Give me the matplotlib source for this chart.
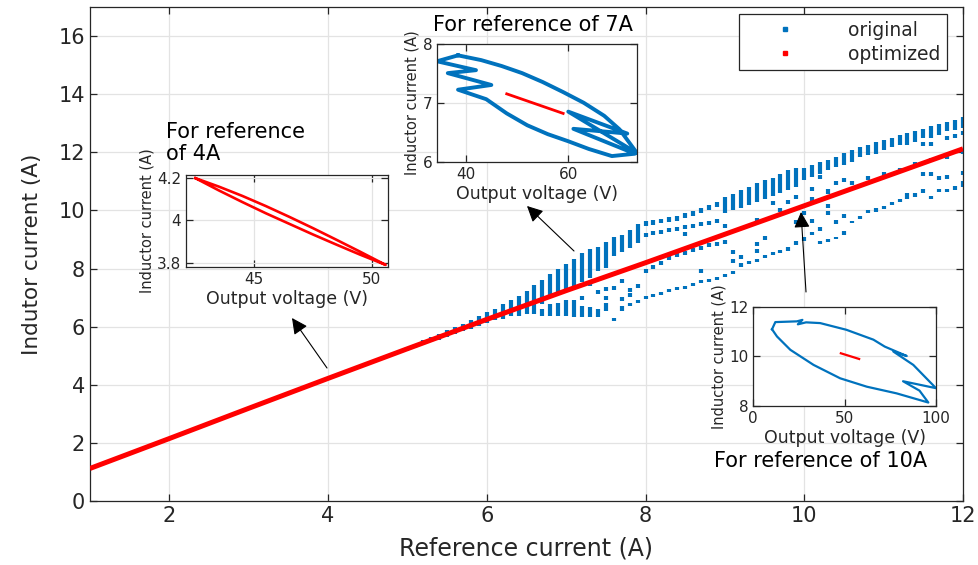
import matplotlib
matplotlib.use('Agg')
import matplotlib.pyplot as plt
from matplotlib.lines import Line2D

plt.rcParams['font.family'] = ['DejaVu Sans']

BLUE = '#0072BD'
RED = '#FF0000'
TXT = '#262626'
GRID = '#e3e3e3'

# ---------------- main data ----------------
ref_current = [1, 2, 3, 4, 5, 6, 7, 8, 9, 10, 11, 12]
opt_current = [1.12, 2.15, 3.19, 4.22, 5.24, 6.25, 7.24, 8.20, 9.18, 10.16, 11.14, 12.12]

# original: upper band (vertical dash segments)
up_x = [5.0, 5.1, 5.2, 5.3, 5.4, 5.5, 5.6, 5.7, 5.8, 5.9,
        6.0, 6.1, 6.2, 6.3, 6.4, 6.5, 6.6, 6.7, 6.8, 6.9,
        7.0, 7.1, 7.2, 7.3, 7.4, 7.5, 7.6, 7.7, 7.8, 7.9,
        8.0, 8.1, 8.2, 8.3, 8.4, 8.5, 8.6, 8.7, 8.8, 8.9,
        9.0, 9.1, 9.2, 9.3, 9.4, 9.5, 9.6, 9.7, 9.8, 9.9,
        10.0, 10.1, 10.2, 10.3, 10.4, 10.5, 10.6, 10.7, 10.8, 10.9,
        11.0, 11.1, 11.2, 11.3, 11.4, 11.5, 11.6, 11.7, 11.8, 11.9, 12.0]
up_lo = [5.17, 5.27, 5.36, 5.46, 5.55, 5.65, 5.74, 5.84, 5.93, 6.03,
         6.12, 6.22, 6.28, 6.38, 6.38, 6.44, 6.44, 6.78, 6.98, 7.12,
         7.28, 7.38, 7.52, 7.68, 7.92, 8.02, 8.42, 8.57, 8.72, 8.87,
         9.45, 9.51, 9.55, 9.61, 9.65, 9.73, 9.81, 9.91, 10.01, 10.13,
         9.90, 10.00, 10.10, 10.20, 10.30, 10.40, 10.50, 10.60, 10.70, 10.80,
         11.05, 11.15, 11.25, 11.40, 11.50, 11.55, 11.68, 11.85, 11.90, 11.95,
         12.08, 12.19, 12.25, 12.25, 12.36, 12.48, 12.50, 12.60, 12.75, 12.78, 12.85]
up_hi = [5.31, 5.42, 5.53, 5.64, 5.76, 5.88, 6.00, 6.10, 6.24, 6.37,
         6.50, 6.62, 6.79, 6.92, 7.07, 7.24, 7.42, 7.59, 7.80, 7.97,
         8.14, 8.32, 8.52, 8.67, 8.74, 8.90, 9.07, 9.14, 9.32, 9.52,
         9.62, 9.68, 9.72, 9.78, 9.82, 9.90, 9.98, 10.08, 10.18, 10.30,
         10.45, 10.58, 10.70, 10.82, 10.95, 11.05, 11.12, 11.25, 11.40, 11.45,
         11.45, 11.55, 11.65, 11.75, 11.85, 11.97, 12.08, 12.19, 12.25, 12.37,
         12.42, 12.50, 12.60, 12.66, 12.72, 12.80, 12.90, 12.98, 13.05, 13.12, 13.20]

# original: lower band
low_x = [6.7, 6.8, 6.9, 7.0, 7.1, 7.2, 7.3, 7.4, 7.5, 7.6,
         7.7, 7.8, 7.9, 8.0, 8.1, 8.2, 8.3, 8.4, 8.5, 8.6,
         8.7, 8.8, 8.9, 9.0, 9.1, 9.2, 9.3, 9.4, 9.5, 9.6,
         9.7, 9.8, 9.9, 10.0, 10.1, 10.2, 10.3, 10.4, 10.5, 10.6,
         10.7, 10.8, 10.9, 11.0, 11.1, 11.2, 11.3, 11.4, 11.5, 11.6,
         11.7, 11.8, 11.9, 12.0]
low_lo = [6.38, 6.38, 6.38, 6.38, 6.33, 6.33, 6.33, 6.33, 6.55, 6.18,
          6.55, 6.70, 6.80, 6.95, 7.02, 7.10, 7.18, 7.25, 7.30, 7.40,
          7.50, 7.55, 7.62, 7.70, 7.80, 8.05, 8.15, 8.22, 8.35, 8.45,
          8.55, 8.62, 8.80, 8.95, 9.15, 8.85, 8.92, 9.00, 9.15, 9.55,
          9.70, 9.90, 9.95, 10.05, 10.20, 10.30, 10.40, 10.45, 10.60, 10.40,
          10.62, 10.65, 10.70, 10.80]
low_hi = [6.62, 6.78, 6.82, 6.92, 6.92, 6.72, 6.67, 6.62, 6.80, 6.30,
          6.70, 6.80, 6.92, 7.05, 7.12, 7.20, 7.28, 7.35, 7.40, 7.50,
          7.60, 7.65, 7.72, 7.80, 7.90, 8.18, 8.25, 8.32, 8.45, 8.58,
          8.65, 8.75, 8.95, 9.08, 9.25, 8.95, 9.02, 9.10, 9.28, 9.65,
          9.80, 10.00, 10.10, 10.15, 10.30, 10.40, 10.60, 10.60, 10.72, 10.50,
          10.72, 10.75, 10.85, 11.00]

# original: scattered dashes between the bands
mid_x = [7.2, 7.3, 7.4, 7.5, 7.5, 7.6, 7.7, 7.7, 7.8, 7.8, 7.9,
         8.0, 8.0, 8.1, 8.1, 8.2, 8.2, 8.3, 8.3, 8.4, 8.4, 8.5, 8.5, 8.5,
         8.6, 8.6, 8.7, 8.7, 8.7, 8.8, 8.8, 8.9, 8.9,
         9.0, 9.0, 9.1, 9.1, 9.2, 9.4, 9.4, 9.4, 9.5, 9.6, 9.7, 9.8, 9.9, 9.9,
         10.0, 10.0, 10.1, 10.1, 10.1, 10.2, 10.2, 10.2, 10.3, 10.3, 10.3,
         10.4, 10.4, 10.5, 10.5, 10.6, 10.8, 11.0, 11.2, 11.4,
         11.5, 11.5, 11.6, 11.6, 11.6, 11.7, 11.8, 11.8, 11.8, 11.9, 12.0, 12.0, 12.0]
mid_y = [6.97, 7.47, 7.19, 7.30, 7.00, 7.32, 7.58, 6.95, 7.25, 7.10, 7.40,
         7.90, 9.15, 8.05, 9.22, 8.20, 9.27, 8.35, 9.32, 8.45, 9.37, 8.52, 9.42, 9.20,
         8.65, 9.47, 8.72, 7.92, 9.52, 8.80, 9.57, 8.86, 9.62,
         8.92, 9.45, 8.25, 8.58, 8.40, 8.60, 8.85, 9.68, 9.05, 10.25, 10.00, 10.30, 9.60, 10.45,
         9.90, 9.50, 10.75, 9.65, 10.40, 11.15, 10.35, 9.35, 10.65, 10.15, 9.90,
         10.95, 9.60, 11.05, 9.80, 10.95, 11.10, 11.25, 11.40, 11.60,
         11.25, 12.30, 11.75, 11.25, 12.30, 11.10, 11.85, 12.50, 11.15, 12.55, 12.00, 12.65, 11.30]

# insets: trajectories (output voltage V, inductor current A)
ins4_v = [42.5, 43.5, 44.5, 45.5, 46.5, 47.5, 48.5, 49.5, 50.6,
          49.5, 48.5, 47.5, 46.5, 45.5, 44.5, 43.5, 42.5]
ins4_i = [4.200, 4.160, 4.116, 4.068, 4.017, 3.964, 3.909, 3.853, 3.790,
          3.839, 3.886, 3.934, 3.984, 4.034, 4.087, 4.142, 4.200]

ins7_orig_v = [38.5, 43.0, 47.0, 51.0, 55.0, 59.0, 63.0, 67.0, 70.0, 73.4,
               60.0, 71.5, 61.0, 73.0, 68.5, 64.0, 60.0, 56.0, 52.0, 48.0, 44.0,
               38.5, 45.0, 36.5, 42.0, 34.4, 38.5]
ins7_orig_i = [7.80, 7.72, 7.62, 7.50, 7.35, 7.18, 7.00, 6.78, 6.55, 6.15,
               6.85, 6.48, 6.56, 6.14, 6.10, 6.22, 6.35, 6.47, 6.62, 6.82, 7.06,
               7.22, 7.30, 7.50, 7.55, 7.70, 7.80]
ins7_opt_v = [48.0, 59.0]
ins7_opt_i = [7.15, 6.82]

ins10_orig_v = [10.4, 12.2, 24.0, 27.0, 24.5, 29.0, 36.7, 51.0, 65.8, 72.0, 84.0, 76.7,
                87.6, 100.0, 82.0, 91.0, 95.8, 78.5, 62.2, 47.6, 33.1, 20.4, 13.1, 10.4]
ins10_orig_i = [11.10, 11.39, 11.42, 11.48, 11.30, 11.38, 11.35, 11.08, 10.68, 10.40, 10.02, 10.20,
                9.66, 8.72, 9.00, 8.62, 8.14, 8.51, 8.78, 9.12, 9.66, 10.27, 10.81, 11.10]
ins10_opt_v = [48.0, 58.0]
ins10_opt_i = [10.13, 9.90]

# ---------------- figure ----------------
W, H = 979, 565
fig = plt.figure(figsize=(W / 100, H / 100), dpi=100)


def fx(px):
    return px / W


def fy(py):
    return 1 - py / H


def style_axes(ax, fs):
    ax.grid(True, color=GRID, lw=0.9)
    ax.set_axisbelow(True)
    ax.tick_params(direction='in', top=True, right=True, colors=TXT,
                   labelsize=fs, length=5, width=0.9, labelcolor=TXT)
    for s in ax.spines.values():
        s.set_color(TXT)
        s.set_linewidth(0.9)


ax = fig.add_axes([fx(90), fy(501), fx(963) - fx(90), fy(7) - fy(501)])
ax.set_xlim(1, 12)
ax.set_ylim(0, 17)
ax.set_xticks([2, 4, 6, 8, 10, 12])
ax.set_yticks([0, 2, 4, 6, 8, 10, 12, 14, 16])
style_axes(ax, 15)
ax.set_xlabel('Reference current (A)', fontsize=17, color=TXT, labelpad=8)
ax.set_ylabel('Indutor current (A)', fontsize=15.5, color=TXT, labelpad=12)

bw = 3.0
ax.vlines(up_x, up_lo, up_hi, colors=BLUE, lw=bw, zorder=2)
ax.vlines(low_x, low_lo, low_hi, colors=BLUE, lw=bw, zorder=2)
ax.vlines(mid_x, [y - 0.07 for y in mid_y], [y + 0.07 for y in mid_y], colors=BLUE, lw=bw, zorder=2)
ax.plot(ref_current, opt_current, color=RED, lw=3.6, solid_capstyle='butt', zorder=3)

handles = [Line2D([], [], ls='none', marker='s', ms=3.5, color=BLUE),
           Line2D([], [], ls='none', marker='s', ms=3.5, color=RED)]
leg = ax.legend(handles, ['original', 'optimized'], loc='upper right',
                bbox_to_anchor=(0.982, 0.985), borderaxespad=0, fontsize=13.5,
                fancybox=False, framealpha=1, edgecolor=TXT, handletextpad=1.3,
                handlelength=4.2, borderpad=0.35, labelspacing=0.25)
leg.get_frame().set_linewidth(0.9)
for t in leg.get_texts():
    t.set_color(TXT)

# arrows
arrow_kw = dict(arrowstyle='-|>', color='black', lw=0.8, mutation_scale=24,
                shrinkA=0, shrinkB=0)
for tail, head in [((327, 368), (292, 318)), ((574, 251), (527, 206)), ((806, 292), (801, 212))]:
    ax.annotate('', xy=(fx(head[0]), fy(head[1])), xycoords='figure fraction',
                xytext=(fx(tail[0]), fy(tail[1])), textcoords='figure fraction',
                arrowprops=arrow_kw, zorder=5)

ins_fs = 11
lab_fs = 12.5

# inset 4A
a1 = fig.add_axes([fx(186), fy(267), fx(388) - fx(186), fy(175) - fy(267)])
a1.plot(ins4_v, ins4_i, color=RED, lw=1.9, solid_joinstyle='round')
a1.set_xlim(42.1, 50.7)
a1.set_ylim(3.78, 4.215)
a1.set_xticks([45, 50])
a1.set_yticks([3.8, 4.0, 4.2])
a1.set_yticklabels(['3.8', '4', '4.2'])
style_axes(a1, ins_fs)
a1.set_xlabel('Output voltage (V)', fontsize=lab_fs, color=TXT, labelpad=2)
a1.set_ylabel('Inductor current (A)', fontsize=10.5, color=TXT, labelpad=2)
fig.text(fx(166), fy(122), 'For reference\nof 4A', fontsize=15, color='black',
         ha='left', va='top', linespacing=1.15)

# inset 7A
a2 = fig.add_axes([fx(437), fy(162), fx(637) - fx(437), fy(43.5) - fy(162)])
a2.plot(ins7_orig_v, ins7_orig_i, color=BLUE, lw=2.8, solid_joinstyle='round')
a2.plot(ins7_opt_v, ins7_opt_i, color=RED, lw=2.0)
a2.set_xlim(34.4, 73.4)
a2.set_ylim(6, 8)
a2.set_xticks([40, 60])
a2.set_yticks([6, 7, 8])
style_axes(a2, ins_fs)
a2.set_xlabel('Output voltage (V)', fontsize=lab_fs, color=TXT, labelpad=2)
a2.set_ylabel('Inductor current (A)', fontsize=10.5, color=TXT, labelpad=2)
fig.text(fx(533), fy(25), 'For reference of 7A', fontsize=15, color='black',
         ha='center', va='center')

# inset 10A
a3 = fig.add_axes([fx(753), fy(406), fx(936) - fx(753), fy(307) - fy(406)])
a3.plot(ins10_orig_v, ins10_orig_i, color=BLUE, lw=1.6, solid_joinstyle='round')
a3.plot(ins10_opt_v, ins10_opt_i, color=RED, lw=1.6)
a3.set_xlim(0, 100)
a3.set_ylim(8, 12)
a3.set_xticks([0, 50, 100])
a3.set_yticks([8, 10, 12])
style_axes(a3, ins_fs)
a3.set_xlabel('Output voltage (V)', fontsize=lab_fs, color=TXT, labelpad=2)
a3.set_ylabel('Inductor current (A)', fontsize=10.5, color=TXT, labelpad=2)
fig.text(fx(821), fy(461), 'For reference of 10A', fontsize=15, color='black',
         ha='center', va='center')

fig.savefig('out.png', dpi=100)
